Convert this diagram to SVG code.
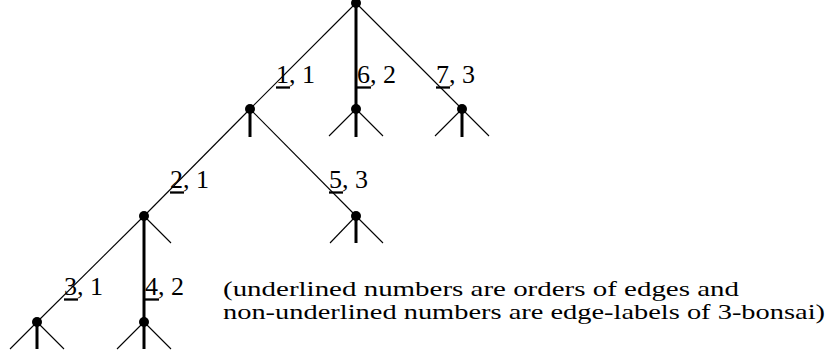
<svg xmlns="http://www.w3.org/2000/svg" width="834" height="356" viewBox="0 0 834 356">
<style>
.thin{stroke:#000;stroke-width:1.1;fill:none}
.bold{stroke:#000;stroke-width:3;fill:none}
.dot{fill:#000}
.lbl{font-family:"Liberation Serif","Times New Roman",serif;font-size:26px;fill:#000}
.ul{stroke:#000;stroke-width:2.3}
.note{font-family:"Liberation Serif","Times New Roman",serif;font-size:22px;fill:#000}
</style>
<rect width="834" height="356" fill="#fff"/>
<g id="connectors">
  <line class="thin" x1="356" y1="3" x2="250" y2="109"/>
  <line class="bold" x1="356" y1="3" x2="356" y2="109"/>
  <line class="thin" x1="356" y1="3" x2="462" y2="109"/>
  <line class="thin" x1="250" y1="109" x2="144" y2="216"/>
  <line class="bold" x1="250" y1="109" x2="250" y2="137"/>
  <line class="thin" x1="250" y1="109" x2="356" y2="216"/>
  <line class="thin" x1="356" y1="109" x2="329" y2="136"/>
  <line class="bold" x1="356" y1="109" x2="356" y2="137"/>
  <line class="thin" x1="356" y1="109" x2="383" y2="136"/>
  <line class="thin" x1="462" y1="109" x2="435" y2="136"/>
  <line class="bold" x1="462" y1="109" x2="462" y2="137"/>
  <line class="thin" x1="462" y1="109" x2="489" y2="136"/>
  <line class="thin" x1="144" y1="216" x2="37" y2="322"/>
  <line class="bold" x1="144" y1="216" x2="144" y2="322"/>
  <line class="thin" x1="144" y1="216" x2="171" y2="243"/>
  <line class="thin" x1="356" y1="216" x2="330" y2="243"/>
  <line class="bold" x1="356" y1="216" x2="356" y2="243"/>
  <line class="thin" x1="356" y1="216" x2="383" y2="243"/>
  <line class="thin" x1="37" y1="322" x2="10" y2="349"/>
  <line class="bold" x1="37" y1="322" x2="37" y2="349"/>
  <line class="thin" x1="37" y1="322" x2="64" y2="349"/>
  <line class="thin" x1="144" y1="322" x2="117" y2="349"/>
  <line class="bold" x1="144" y1="322" x2="144" y2="349"/>
  <line class="thin" x1="144" y1="322" x2="171" y2="349"/>
</g>
<g id="root"><circle class="dot" cx="356" cy="3" r="5"/></g>
<g id="n1"><circle class="dot" cx="250" cy="109" r="5"/></g>
<g id="n6"><circle class="dot" cx="356" cy="109" r="5"/></g>
<g id="n7"><circle class="dot" cx="462" cy="109" r="5"/></g>
<g id="n2"><circle class="dot" cx="144" cy="216" r="5"/></g>
<g id="n5"><circle class="dot" cx="356" cy="216" r="5"/></g>
<g id="n3"><circle class="dot" cx="37" cy="322" r="5"/></g>
<g id="n4"><circle class="dot" cx="144" cy="322" r="5"/></g>
<g id="labels">
  <g id="l1"><text class="lbl" x="276" y="83">1, 1</text><line class="ul" x1="276" y1="87.5" x2="290" y2="87.5"/></g>
  <g id="l6"><text class="lbl" x="357" y="83">6, 2</text><line class="ul" x1="357" y1="87.5" x2="371" y2="87.5"/></g>
  <g id="l7"><text class="lbl" x="436" y="83">7, 3</text><line class="ul" x1="436" y1="87.5" x2="450" y2="87.5"/></g>
  <g id="l2"><text class="lbl" x="170" y="188">2, 1</text><line class="ul" x1="170" y1="192.5" x2="184" y2="192.5"/></g>
  <g id="l5"><text class="lbl" x="329" y="188">5, 3</text><line class="ul" x1="329" y1="192.5" x2="343" y2="192.5"/></g>
  <g id="l3"><text class="lbl" x="64" y="295">3, 1</text><line class="ul" x1="64" y1="299.5" x2="78" y2="299.5"/></g>
  <g id="l4"><text class="lbl" x="145" y="295">4, 2</text><line class="ul" x1="145" y1="299.5" x2="159" y2="299.5"/></g>
</g>
<g id="note">
  <text class="note" x="223" y="296" textLength="516" lengthAdjust="spacingAndGlyphs">(underlined numbers are orders of edges and</text>
  <text class="note" x="223" y="319" textLength="602" lengthAdjust="spacingAndGlyphs">non-underlined numbers are edge-labels of 3-bonsai)</text>
</g>
</svg>
